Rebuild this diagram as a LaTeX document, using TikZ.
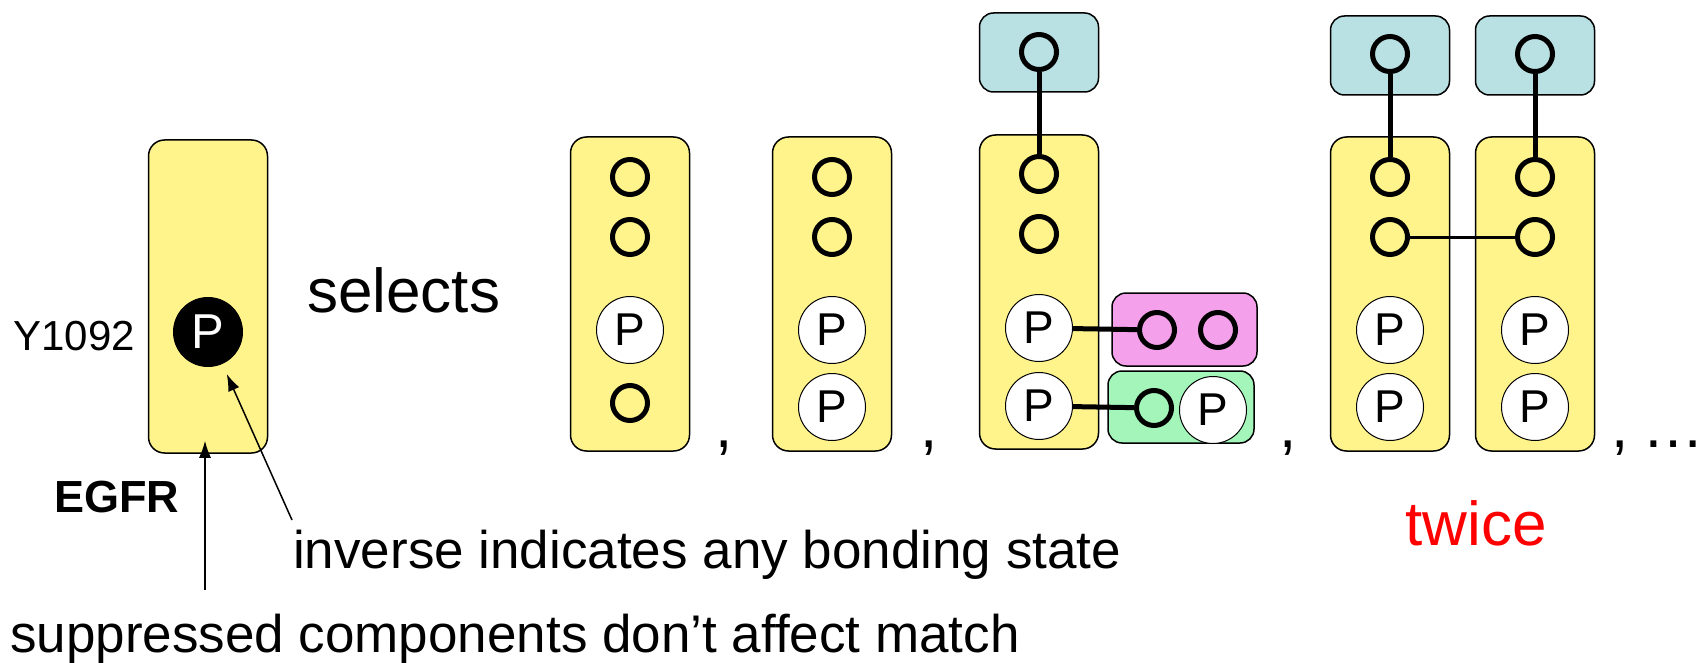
\documentclass[tikz,border=0pt]{standalone}
\usepackage{fontspec}
\setmainfont{Liberation Sans}
\usepackage{xcolor}
\definecolor{molYellow}{HTML}{FFF48C}
\definecolor{molBlue}{HTML}{B9E0E3}
\definecolor{molPink}{HTML}{F5A0EB}
\definecolor{molGreen}{HTML}{A3F5BA}
\usepackage{tikz}
\usetikzlibrary{arrows.meta, positioning, calc}

\begin{document}
\begin{tikzpicture}[
        x=1pt, y=-1pt,
        molBox/.style={
            draw=black,
            line width=1.5pt,
            fill=molYellow,
            rounded corners=16pt,
            inner sep=0pt,
            minimum width=119pt,
            minimum height=314pt
        },
        partnerBox/.style={
            molBox,
            fill=molBlue,
            rounded corners=14pt,
            minimum height=79pt
        },
        siteNode/.style={
            circle,
            draw=black,
            line width=5pt,
            inner sep=0pt,
            minimum size=35pt
        },
        pNode/.style={
            circle,
            draw=black,
            line width=1pt,
            fill=white,
            inner sep=0pt,
            minimum size=67pt,
            font=\fontsize{46}{50}\selectfont
        },
        pAnyNode/.style={
            pNode,
            fill=black,
            minimum size=69pt,
            text=white,
            font=\fontsize{49}{54}\selectfont
        },
        bondLine/.style={
            line width=5pt
        },
        pointerArrow/.style={
            -{Latex[length=17pt,width=12pt]},
            line width=1.5pt
        },
        bigText/.style={
            anchor=base,
            inner sep=0pt,
            font=\fontsize{62}{70}\selectfont
        },
        noteText/.style={
            anchor=base west,
            inner sep=0pt,
            font=\fontsize{53}{60}\selectfont
        }
    ]
    \useasboundingbox (0,0) rectangle (1704,663);

    % pattern molecule
    \node[molBox, minimum height=313pt] (egfr) at (208,296.5) {};
    \node[pAnyNode] (pY) at (208,332) {P};
    \node[anchor=base east, inner sep=0pt, font=\fontsize{42}{48}\selectfont] (resLabel) at (135,350) {Y1092};
    \node[anchor=base west, inner sep=0pt, font=\fontsize{45}{50}\selectfont\bfseries] (egfrLabel) at (54,512) {EGFR};

    \node[bigText, anchor=base west] (selects) at (307,312) {selects};

    % first match: free sites, one P
    \node[molBox] (mA) at (630,294) {};
    \node[siteNode] (mA1) at (630,177) {};
    \node[siteNode] (mA2) at (630,237) {};
    \node[pNode] (mA3) at (630,330) {P};
    \node[siteNode] (mA4) at (630,403) {};
    \node[bigText] (sepA) at (724,447) {,};

    % second match: two P
    \node[molBox] (mB) at (832,294) {};
    \node[siteNode] (mB1) at (832,177) {};
    \node[siteNode] (mB2) at (832,237) {};
    \node[pNode] (mB3) at (832,330) {P};
    \node[pNode] (mB4) at (832,407) {P};
    \node[bigText] (sepB) at (929,447) {,};

    % third match: bound to three partners
    \node[partnerBox] (cTop) at (1039,52.5) {};
    \node[siteNode] (cTop1) at (1039,52) {};
    \node[molBox] (mC) at (1039,292) {};
    \node[siteNode] (mC1) at (1039,174) {};
    \node[siteNode] (mC2) at (1039,234) {};
    \node[pNode] (mC3) at (1039,328) {P};
    \node[pNode] (mC4) at (1039,406) {P};
    \node[partnerBox, fill=molPink, minimum width=145pt, minimum height=73pt] (cPink) at (1184.5,329.5) {};
    \node[siteNode] (cPink1) at (1157,330) {};
    \node[siteNode] (cPink2) at (1218,330) {};
    \node[partnerBox, fill=molGreen, minimum width=146pt, minimum height=72pt] (cGreen) at (1181,407) {};
    \node[siteNode] (cGreen1) at (1154,408) {};
    \node[pNode] (cGreen2) at (1213,410) {P};
    \draw[bondLine] (cTop1) -- (mC1);
    \draw[bondLine] (mC3) -- (cPink1);
    \draw[bondLine] (mC4) -- (cGreen1);
    \node[bigText] (sepC) at (1288,447) {,};

    % fourth match: dimer
    \foreach \name/\cx in {mD/1390, mE/1535} {
        \node[partnerBox] (\name Top) at (\cx,55.5) {};
        \node[siteNode] (\name Top1) at (\cx,54) {};
        \node[molBox] (\name) at (\cx,294) {};
        \node[siteNode] (\name1) at (\cx,177) {};
        \node[siteNode] (\name2) at (\cx,237) {};
        \node[pNode] (\name3) at (\cx,330) {P};
        \node[pNode] (\name4) at (\cx,407) {P};
        \draw[bondLine] (\name Top1) -- (\name1);
    }
    \draw[line width=3pt] (mD2) -- (mE2);
    \node[bigText, anchor=base west] (sepD) at (1611,447) {,\hspace{14pt}…};
    \node[bigText, text=red] (twice) at (1476,545) {twice};

    % notes with pointers
    \node[noteText] (invNote) at (293,568) {inverse indicates any bonding state};
    \node[noteText] (suppNote) at (10,652) {suppressed components don’t affect match};
    \coordinate (invTail) at (292,520);
    \coordinate (suppTail) at (205,590);
    \draw[pointerArrow, shorten >=11pt] (invTail) -- (pY);
    \draw[pointerArrow] (suppTail) -- ($(suppTail |- egfr.south)+(0,-13)$);

\end{tikzpicture}
\end{document}
